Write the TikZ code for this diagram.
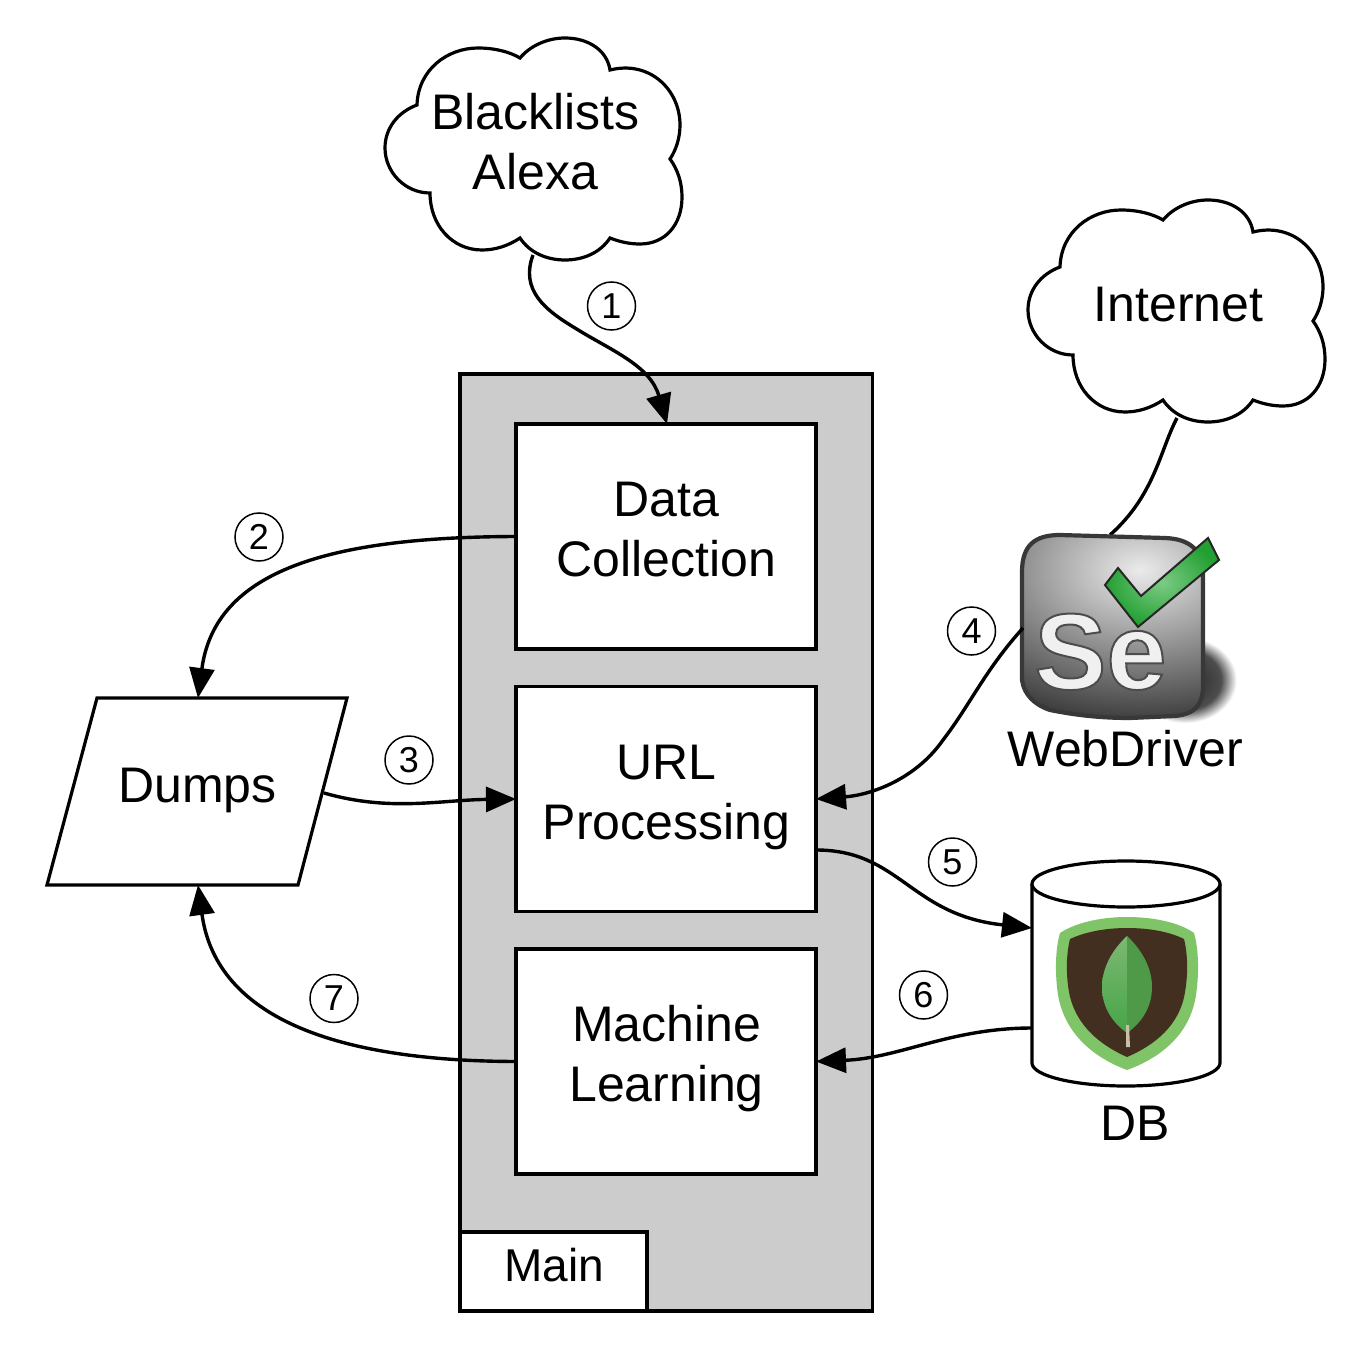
\documentclass[tikz,border=0pt]{standalone}
\usepackage{fontspec}
\setmainfont{Liberation Sans}
\usetikzlibrary{arrows.meta}
\definecolor{panelgray}{HTML}{CCCCCC}
\definecolor{shieldlight}{HTML}{7FC467}
\definecolor{shieldbrown}{HTML}{422F20}
\definecolor{leafdark}{HTML}{4F9A48}
\definecolor{leaftop}{HTML}{7DB873}
\definecolor{leafbottom}{HTML}{46A548}
\definecolor{stemtan}{HTML}{C8BFA8}
\definecolor{checkmid}{HTML}{7CCB84}
\definecolor{checkout}{HTML}{22A032}
\pgfdeclareradialshading{softshadow}{\pgfpointorigin}{color(0bp)=(black!85); color(15bp)=(black!70); color(21.5bp)=(white); color(50bp)=(white)}
\tikzset{
  x=0.5pt,y=-0.5pt,
  line/.style={line width=1.6pt,draw=black},
  bigtext/.style={font=\fontsize{25}{30}\selectfont,align=center,inner sep=0pt,outer sep=0pt},
  stagebox/.style={line,fill=white,minimum width=150pt,minimum height=112.5pt,inner sep=0pt,outer sep=0pt},
  conn/.style={line width=1.7pt,draw=black,-{Triangle[length=15pt,width=12.5pt]}},
  plainconn/.style={line width=1.7pt,draw=black},
  stepmark/.style={circle,draw=black,line width=0.75pt,fill=white,minimum size=24pt,inner sep=0pt,font=\fontsize{18}{18}\selectfont},
  cloudshape/.pic={
    \draw[line,fill=white,line join=miter]
      (430,193) .. controls (405,193) and (385,172) .. (385,148)
      .. controls (385,128) and (398,112) .. (417,105)
      .. controls (418,70) and (447,48) .. (478,48)
      .. controls (495,48) and (510,52) .. (520,58)
      .. controls (530,46) and (547,38) .. (565,38)
      .. controls (588,38) and (607,50) .. (610,70)
      .. controls (650,60) and (680,90) .. (680,125)
      .. controls (680,138) and (676,150) .. (670,159)
      .. controls (678,170) and (682,183) .. (682,197)
      .. controls (682,225) and (665,244) .. (640,244)
      .. controls (630,244) and (620,242) .. (610,238)
      .. controls (600,253) and (583,260) .. (565,260)
      .. controls (547,260) and (530,253) .. (520,238)
      .. controls (508,246) and (495,250) .. (482,250)
      .. controls (452,250) and (430,225) .. (430,193) -- cycle;
  }
}
\begin{document}
\begin{tikzpicture}
\useasboundingbox[fill=white] (0,0) rectangle (1371,1348);

% main panel
\draw[line,fill=panelgray] (460,374) rectangle (872.5,1311);
\node[line,fill=white,minimum width=93.5pt,minimum height=39.5pt,inner sep=0pt,outer sep=0pt] (maintab) at (553.5,1271.5) {};
\node[inner sep=0pt,font=\fontsize{23}{27}\selectfont] (maintext) at (554,1265) {Main};

% stage boxes
\node[stagebox] (collect) at (666,536.5) {};
\node[stagebox] (urlproc) at (666,799) {};
\node[stagebox] (learn) at (666,1061.5) {};
\node[bigtext] at (666.5,530) {Data\\Collection};
\node[bigtext] at (666.5,797) {URL\\Processing};
\node[bigtext] at (666.5,1059) {Machine\\Learning};

% clouds
\pic at (0,0) {cloudshape};
\pic at (643,162) {cloudshape};
\node[bigtext] (blacklists) at (535.5,141.5) {Blacklists\\Alexa};
\node[bigtext] (internet) at (1178.5,305) {Internet};
\coordinate (cloudAout) at (533,255);
\coordinate (cloudBout) at (1177,418);

% dumps
\draw[line,line join=miter] (97,698) -- (347,698) -- (298,885) -- (47,885) -- cycle;
\node[bigtext] (dumps) at (197.5,790) {Dumps};
\coordinate (dumpsTop) at (198,698);
\coordinate (dumpsBot) at (198,885);
\coordinate (dumpsRight) at (324,793);

% Selenium logo shadow
\path[shading=softshadow] (1185,680) ellipse [x radius=60,y radius=50];

% connector to logo
\coordinate (seTop) at (1110,535);
\coordinate (seLeft) at (1023,628);
\draw[plainconn] (cloudBout) .. controls (1160,450) and (1155,495) .. (seTop);

% Selenium logo
\begin{scope}
\clip (1022,572) .. controls (1022,545) and (1035,535) .. (1060,535) -- (1165,538)
   .. controls (1190,539) and (1203,550) .. (1203,575) -- (1203,685)
   .. controls (1203,705) and (1195,714) .. (1175,716) -- (1130,718)
   .. controls (1100,718) and (1075,715) .. (1050,710)
   .. controls (1035,705) and (1024,695) .. (1022,680) -- cycle;
\path[shading=radial,inner color=white!92!black,outer color=black!80] (1140,570) ellipse [x radius=240,y radius=160];
\end{scope}
\draw[line width=2.1pt,draw=black!78]
   (1022,572) .. controls (1022,545) and (1035,535) .. (1060,535) -- (1165,538)
   .. controls (1190,539) and (1203,550) .. (1203,575) -- (1203,685)
   .. controls (1203,705) and (1195,714) .. (1175,716) -- (1130,718)
   .. controls (1100,718) and (1075,715) .. (1050,710)
   .. controls (1035,705) and (1024,695) .. (1022,680) -- cycle;
\node[anchor=base west,inner sep=0pt,text=white!94!black,font=\fontsize{54}{54}\selectfont\bfseries] (seText) at (1034,689)
  {\special{pdf:code 2 Tr 1 w 0.3 0.3 0.3 RG}Se\special{pdf:code 0 Tr 0 0 0 RG}};
\draw[line width=1pt,draw=black!85,line join=miter,shading=radial,inner color=checkmid,outer color=checkout]
   (1208,538) -- (1219,560) -- (1138,627) -- (1105,585) -- (1118,568) -- (1141,596) -- cycle;
\node[bigtext] (webdriver) at (1125.5,748.5) {WebDriver};

% database cylinder
\draw[line,fill=white] (1032,884) -- (1032,1063) arc[start angle=180,end angle=360,x radius=94,y radius=-23] -- (1220,884);
\draw[line,fill=white] (1126,884) ellipse [x radius=94,y radius=23];
\fill[shieldlight] (1127,917) .. controls (1100,917) and (1075,923) .. (1060,933)
  .. controls (1055,950) and (1055,975) .. (1058,995)
  .. controls (1065,1035) and (1095,1058) .. (1127,1070)
  .. controls (1160,1058) and (1190,1035) .. (1196,995)
  .. controls (1199,975) and (1199,950) .. (1194,933)
  .. controls (1180,923) and (1155,917) .. (1127,917) -- cycle;
\fill[shieldbrown] (1127,928) .. controls (1105,928) and (1085,932) .. (1070,939)
  .. controls (1066,955) and (1066,975) .. (1069,992)
  .. controls (1075,1025) and (1100,1045) .. (1127,1057)
  .. controls (1155,1045) and (1180,1025) .. (1185,992)
  .. controls (1188,975) and (1188,955) .. (1184,939)
  .. controls (1170,932) and (1150,928) .. (1127,928) -- cycle;
\path[top color=leaftop,bottom color=leafbottom] (1127,936) .. controls (1112,950) and (1102,968) .. (1102,987)
  .. controls (1102,1008) and (1113,1023) .. (1127,1033) -- cycle;
\fill[leafdark] (1127,936) .. controls (1142,950) and (1152,968) .. (1152,987)
  .. controls (1152,1008) and (1141,1023) .. (1127,1033) -- cycle;
\fill[stemtan] (1126,1025) -- (1129,1025) -- (1130,1047) -- (1126,1047) -- cycle;
\node[bigtext] (dbtext) at (1135,1123) {DB};
\coordinate (dbIn) at (1032,928);
\coordinate (dbOut) at (1032,1028);
\coordinate (midA) at (575,328);
\coordinate (midB) at (943,740);

% connectors
\draw[conn] (cloudAout) .. controls (520,290) and (545,310) .. (midA) .. controls (610,350) and (650,365) .. ([xshift=0.5pt]collect.north);
\draw[conn] (collect.west) .. controls (330,537) and (215,570) .. (dumpsTop);
\draw[conn] (dumpsRight) .. controls (390,812) and (440,800) .. (urlproc.west);
\draw[conn] (seLeft) .. controls (985,670) and (970,705) .. (midB) .. controls (915,780) and (870,795) .. (urlproc.east);
\draw[conn] ([yshift=-25.5pt]urlproc.east) .. controls (900,850) and (910,915) .. (dbIn);
\draw[conn] (dbOut) .. controls (950,1028) and (900,1058) .. (learn.east);
\draw[conn] (learn.west) .. controls (320,1061) and (215,1010) .. (dumpsBot);

% step marks
\node[stepmark] (s1) at (611.5,306) {1};
\node[stepmark] (s2) at (259,537) {2};
\node[stepmark] (s3) at (409,760) {3};
\node[stepmark] (s4) at (971.5,631) {4};
\node[stepmark] (s5) at (952.5,862) {5};
\node[stepmark] (s6) at (923.5,995) {6};
\node[stepmark] (s7) at (334,998.5) {7};
\end{tikzpicture}
\end{document}
